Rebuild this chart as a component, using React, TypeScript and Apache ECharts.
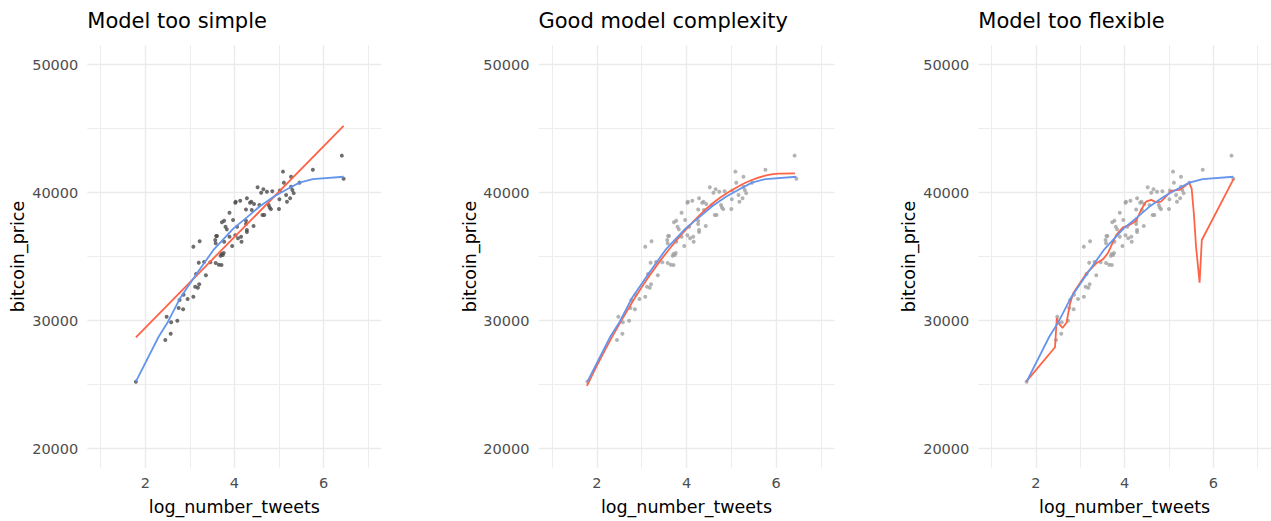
import React, { useEffect, useRef } from "react";
import * as echarts from "echarts";

// Observations: log of tweet count vs. bitcoin price
const logNumberTweets = [
  1.79, 2.45, 2.57, 2.48, 2.58, 2.72, 2.75, 2.85, 2.77, 2.86,
  2.95, 3.08, 3.12, 3.18, 3.21, 3.14, 3.2, 3.32, 3.36, 3.46,
  3.58, 3.65, 3.71, 3.08, 3.22, 3.57, 3.59, 3.58, 3.71, 3.69,
  3.74, 3.76, 3.72, 3.77, 3.8, 3.83, 3.89, 3.89, 3.77, 3.97,
  3.95, 4.02, 4.06, 4.02, 4.03, 4.13, 4.08, 4.15, 4.16, 4.26,
  4.28, 4.26, 4.26, 4.28, 4.28, 4.38, 4.39, 4.44, 4.43, 4.52,
  4.6, 4.65, 4.73, 4.85, 4.56, 4.63, 4.67, 4.77, 4.79, 4.82,
  5.0, 5.01, 5.09, 5.11, 5.16, 5.18, 5.25, 5.27, 5.27, 5.3,
  5.33, 5.46, 5.76, 6.41, 6.45, 5.02, 3.61, 4.35,
];
const bitcoinPrice = [
  25220, 28480, 28970, 30300, 29860, 29980, 30980, 30880, 31600, 32020,
  31680, 31860, 32640, 32560, 32830, 33630, 34520, 34570, 33530, 34550,
  34490, 34360, 34340, 35770, 36190, 36290, 36600, 36030, 35200, 35050,
  35120, 35280, 37670, 37800, 37330, 37120, 38420, 36550, 36160, 37850,
  35820, 36660, 37330, 39200, 39280, 39360, 36420, 36550, 36160, 38680,
  39550, 37800, 37540, 37070, 36910, 39280, 38630, 39100, 37380, 40410,
  39980, 40250, 40060, 40090, 39020, 38240, 38240, 39020, 38830, 38700,
  38710, 39470, 41630, 40770, 39800, 39280, 39550, 41230, 40450, 40200,
  39950, 40770, 41780, 42880, 41080, 40150, 36600, 39200,
];

// Reference curve (blue), shown in every panel
const trueCurveX = [1.79, 2.3, 2.49, 2.78, 3.16, 3.53, 3.98, 4.28, 4.58, 4.88, 5.18, 5.46, 5.76, 6.45];
const trueCurveY = [25220, 28730, 29780, 31730, 33690, 35510, 37200, 38060, 38950, 39670, 40250, 40770, 41050, 41230];

// Straight-line fit
const simpleFitX = [1.79, 6.45];
const simpleFitY = [28690, 45200];

// Smooth fit
const goodFitX = [1.78, 2.2, 2.6, 3.0, 3.4, 3.8, 4.2, 4.6, 5.0, 5.4, 5.8, 6.1, 6.42];
const goodFitY = [24900, 27800, 30300, 32600, 34600, 36350, 37900, 39200, 40150, 40900, 41350, 41480, 41500];

// Over-flexible fit
const flexFitX = [
  1.78, 2.43, 2.47, 2.53, 2.6, 2.69, 2.77, 2.84, 3.14, 3.36, 3.51, 3.62, 3.81, 3.96,
  4.11, 4.26, 4.37, 4.48, 4.6, 4.71, 4.82, 4.93, 5.04, 5.23, 5.34, 5.45, 5.51, 5.56,
  5.61, 5.69, 5.74, 6.46,
];
const flexFitY = [
  25220, 27910, 30200, 29700, 29420, 29850, 31340, 32120, 33690, 34470, 34780, 35250, 36680, 37280,
  37460, 37800, 38630, 39280, 39420, 39230, 39280, 39670, 40120, 40200, 40450, 40770, 40330, 38380,
  35770, 32950, 36290, 41080,
];

const panelTitles = ["Model too simple", "Good model complexity", "Model too flexible"];
const xTickLabels = [2, 4, 6];
const yTickLabels = [20000, 30000, 40000, 50000];
const xMajorGrid = [2, 4, 6];
const xMinorGrid = [1, 3, 5, 7];
const yMajorGrid = [20000, 30000, 40000, 50000];
const yMinorGrid = [25000, 35000, 45000];

const FONT = "DejaVu Sans";
const RED = "#FF6347";
const BLUE = "#6495ED";

const zip = (xs: number[], ys: number[]) => xs.map((x, i) => [x, ys[i]]);

function buildOption() {
  const panels = [
    { left: 87.3, width: 294.2, pointColor: "#4a4a4a", fitX: simpleFitX, fitY: simpleFitY, smooth: false },
    { left: 538.5, width: 296, pointColor: "#a0a0a0", fitX: goodFitX, fitY: goodFitY, smooth: true },
    { left: 978.3, width: 295.2, pointColor: "#a0a0a0", fitX: flexFitX, fitY: flexFitY, smooth: false },
  ];
  const top = 45.3;
  const height = 422.4;

  const title: any[] = [];
  const grid: any[] = [];
  const xAxis: any[] = [];
  const yAxis: any[] = [];
  const series: any[] = [];

  panels.forEach((p, i) => {
    title.push({
      text: panelTitles[i],
      left: p.left,
      top: 10,
      padding: 0,
      textStyle: { fontFamily: FONT, fontSize: 21, fontWeight: "normal", color: "#000" },
    });
    grid.push({ left: p.left, top, width: p.width, height, containLabel: false });
    xAxis.push({
      gridIndex: i,
      type: "value",
      min: 0.7,
      max: 7.3,
      name: "log_number_tweets",
      nameLocation: "middle",
      nameGap: 30,
      nameTextStyle: { fontFamily: FONT, fontSize: 17.5, color: "#000" },
      axisLine: { show: false },
      axisTick: { show: false },
      splitLine: { show: false },
      axisLabel: {
        customValues: xTickLabels,
        margin: 8,
        fontFamily: FONT,
        fontSize: 14.5,
        color: "#4d4d4d",
        formatter: (v: number) => String(v),
      },
    });
    yAxis.push({
      gridIndex: i,
      type: "value",
      min: 18500,
      max: 51500,
      name: "bitcoin_price",
      nameLocation: "middle",
      nameGap: 60,
      nameTextStyle: { fontFamily: FONT, fontSize: 17.5, color: "#000" },
      axisLine: { show: false },
      axisTick: { show: false },
      splitLine: { show: false },
      axisLabel: {
        customValues: yTickLabels,
        margin: 9,
        fontFamily: FONT,
        fontSize: 14.5,
        color: "#4d4d4d",
        formatter: (v: number) => String(v),
      },
    });

    const major = { color: "#ebebeb", width: 1.4, type: "solid" };
    const minor = { color: "#ededed", width: 1.0, type: "solid" };
    series.push({
      type: "line",
      xAxisIndex: i,
      yAxisIndex: i,
      data: [],
      silent: true,
      z: 0,
      markLine: {
        silent: true,
        z: 0,
        symbol: ["none", "none"],
        label: { show: false },
        animation: false,
        data: [
          ...xMinorGrid.map((v) => ({ xAxis: v, lineStyle: minor })),
          ...yMinorGrid.map((v) => ({ yAxis: v, lineStyle: minor })),
          ...xMajorGrid.map((v) => ({ xAxis: v, lineStyle: major })),
          ...yMajorGrid.map((v) => ({ yAxis: v, lineStyle: major })),
        ],
      },
    });
    series.push({
      type: "scatter",
      xAxisIndex: i,
      yAxisIndex: i,
      data: zip(logNumberTweets, bitcoinPrice),
      symbolSize: 4,
      itemStyle: { color: p.pointColor },
      silent: true,
      z: 10,
    });
    series.push({
      type: "line",
      xAxisIndex: i,
      yAxisIndex: i,
      data: zip(p.fitX, p.fitY),
      showSymbol: false,
      smooth: p.smooth,
      lineStyle: { color: RED, width: 1.8 },
      silent: true,
      z: 11,
    });
    series.push({
      type: "line",
      xAxisIndex: i,
      yAxisIndex: i,
      data: zip(trueCurveX, trueCurveY),
      showSymbol: false,
      lineStyle: { color: BLUE, width: 1.8 },
      silent: true,
      z: 12,
    });
  });

  return { animation: false, backgroundColor: "#ffffff", title, grid, xAxis, yAxis, series };
}

export default function App() {
  const ref = useRef<HTMLDivElement>(null);
  useEffect(() => {
    document.body.style.margin = "0";
    const chart = echarts.init(ref.current!, null, { renderer: "svg" });
    chart.setOption(buildOption() as any);
    return () => chart.dispose();
  }, []);
  return <div ref={ref} style={{ width: 1271, height: 521 }} />;
}
